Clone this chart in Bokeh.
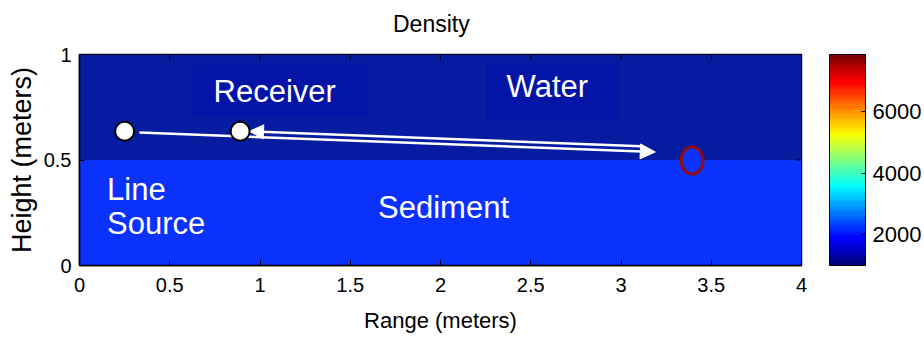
import math
from bokeh.plotting import figure
from bokeh.layouts import column
from bokeh.models import (ColorBar, LinearColorMapper, FixedTicker,
                          Arrow, NormalHead, Range1d, Div)
from bokeh.core.properties import value
from bokeh.embed import file_html
from bokeh.resources import INLINE

# ---------------- data ----------------
x_ticks = [0, 0.5, 1, 1.5, 2, 2.5, 3, 3.5, 4]
x_tick_labels = ["0", "0.5", "1", "1.5", "2", "2.5", "3", "3.5", "4"]
y_ticks = [0, 0.5, 1]
y_tick_labels = ["0", "0.5", "1"]
cbar_ticks = [2000, 4000, 6000]
density_low = 1000
density_high = 7850

layer_names = ["Water", "Sediment"]
layer_left = [0, 0]
layer_right = [4, 4]
layer_bottom = [0.5, 0]
layer_top = [1, 0.5]
layer_colors = ["#061ba0", "#0a32fc"]

box_left = [0.629, 2.252]
box_right = [1.592, 2.988]
box_bottom = [0.700, 0.689]
box_top = [0.949, 0.959]

label_text = ["Receiver", "Water", "Line", "Source", "Sediment"]
label_x = [0.743, 2.366, 0.153, 0.153, 1.654]
label_y = [0.827, 0.847, 0.360, 0.197, 0.276]

source_x = [0.25]
source_y = [0.636]
receiver_x = [0.89]
receiver_y = [0.636]
target_x = [3.394]
target_y = [0.498]

ray_out_start = (0.332, 0.630)
ray_out_end = (3.19, 0.538)
ray_back_start = (3.11, 0.565)
ray_back_end = (0.942, 0.636)

X_MIN, X_MAX = 0, 4
Y_MIN, Y_MAX = 0, 1

TITLE = "Density"
X_LABEL = "Range (meters)"
Y_LABEL = "Height (meters)"


def jet(n):
    cols = []
    for i in range(n):
        t = i / (n - 1)
        r = min(max(1.5 - abs(4 * t - 3), 0), 1)
        g = min(max(1.5 - abs(4 * t - 2), 0), 1)
        b = min(max(1.5 - abs(4 * t - 1), 0), 1)
        cols.append("#%02x%02x%02x" % (int(r * 255), int(g * 255), int(b * 255)))
    return cols


FONT = "Liberation Sans"

title_div = Div(text=TITLE, width=924, height=40, margin=(0, 0, 0, 0),
                styles={"font-family": "'Liberation Sans', sans-serif",
                        "font-size": "23px", "line-height": "23px",
                        "color": "black", "padding-left": "393px",
                        "padding-top": "13px", "box-sizing": "border-box"})

p = figure(width=924, height=299, output_backend="svg", toolbar_location=None,
           title=None,
           x_range=Range1d(X_MIN, X_MAX), y_range=Range1d(Y_MIN, Y_MAX),
           min_border_left=79, min_border_right=122, min_border_top=14,
           min_border_bottom=74)
p.margin = (0, 0, 0, 0)
p.grid.visible = False
p.outline_line_color = "black"
p.outline_line_width = 1.5

# layers
p.quad(left=layer_left, right=layer_right, bottom=layer_bottom, top=layer_top,
       fill_color=layer_colors, line_color=None)
# label boxes
p.quad(left=box_left, right=box_right, bottom=box_bottom, top=box_top,
       fill_color="#0414a6", line_color=None)
p.text(x=label_x, y=label_y, text=label_text, text_color="white",
       text_font=value(FONT), text_font_size="31px",
       text_baseline="alphabetic", text_align="left")

# rays
for (xs, ys), (xe, ye), sz in [(ray_out_start, ray_out_end, 15),
                               (ray_back_start, ray_back_end, 14)]:
    p.add_layout(Arrow(end=NormalHead(size=sz, fill_color="white",
                                      line_color="white", line_width=1),
                       x_start=xs, y_start=ys, x_end=xe, y_end=ye,
                       line_color="white", line_width=2.5))

# target
p.ellipse(x=target_x, y=target_y, width=22, height=27, width_units="screen",
          height_units="screen", fill_color=layer_colors[1],
          line_color="#8f0d0d", line_width=3)

# source and receiver
p.scatter(source_x + receiver_x, source_y + receiver_y, size=19,
          fill_color="white", line_color="black", line_width=2, level="overlay")

# inward ticks on top and right edges of the box
p.scatter(x=x_ticks, y=[Y_MAX] * len(x_ticks), marker="dash", angle=math.pi / 2,
          size=10, line_color="black", line_width=1)
p.scatter(x=[X_MAX] * len(y_ticks), y=y_ticks, marker="dash",
          size=10, line_color="black", line_width=1)

# axes
for ax, ticks, labels in [(p.xaxis[0], x_ticks, x_tick_labels),
                          (p.yaxis[0], y_ticks, y_tick_labels)]:
    ax.ticker = FixedTicker(ticks=ticks)
    ax.major_label_overrides = {t: l for t, l in zip(ticks, labels)}
    ax.major_tick_in = 5
    ax.major_tick_out = 0
    ax.minor_tick_line_color = None
    ax.major_label_text_font = FONT
    ax.major_label_text_font_size = "20px"
    ax.major_label_text_color = "black"
    ax.axis_label_text_font = FONT
    ax.axis_label_text_font_style = "normal"
    ax.axis_label_text_color = "black"
    ax.axis_line_width = 1.5

p.xaxis[0].axis_label = X_LABEL
p.xaxis[0].axis_label_text_font_size = "22px"
p.xaxis[0].major_label_standoff = 12
p.xaxis[0].axis_label_standoff = 13
p.yaxis[0].axis_label = Y_LABEL
p.yaxis[0].axis_label_text_font_size = "27px"
p.yaxis[0].major_label_standoff = 8
p.yaxis[0].axis_label_standoff = 4

mapper = LinearColorMapper(palette=jet(64), low=density_low, high=density_high)
cb = ColorBar(color_mapper=mapper, ticker=FixedTicker(ticks=cbar_ticks),
              width=36, height=211, location=(28, 0), padding=0, margin=0,
              label_standoff=7, major_label_text_font=FONT,
              major_label_text_font_size="22px", major_label_text_color="black",
              bar_line_color="black",
              major_tick_line_color="black", major_tick_in=4, major_tick_out=0,
              border_line_color=None, background_fill_color=None)
p.add_layout(cb, "right")

layout = column(title_div, p, spacing=0)
open("out.html", "w").write(file_html(layout, INLINE))
